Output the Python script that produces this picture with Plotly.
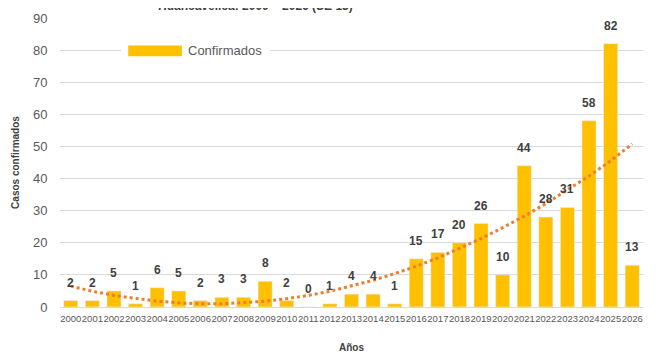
import plotly.graph_objects as go

# casos confirmados por año (SE 13 para 2026)
years = list(range(2000, 2027))
casos = [2, 2, 5, 1, 6, 5, 2, 3, 3, 8, 2, 0, 1, 4, 4, 1,
         15, 17, 20, 26, 10, 44, 28, 31, 58, 82, 13]
# linea de tendencia (polinomica)
tendencia = [6.5, 4.9, 3.6, 2.6, 1.8, 1.3, 1.0, 1.0, 1.3, 1.8, 2.6, 3.6, 4.9,
             6.5, 8.3, 10.4, 12.7, 15.3, 18.2, 21.3, 24.7, 28.3, 32.2, 36.4,
             40.8, 45.5, 50.8]
tick_labels = [str(y) for y in years]

FONT = "Liberation Sans, Arial, sans-serif"
GRAY = "#595959"

fig = go.Figure()

fig.add_trace(go.Bar(
    x=years, y=casos, name="Confirmados",
    marker_color="#FFC000", width=0.65,
    showlegend=False,
))

fig.add_trace(go.Scatter(
    x=years, y=tendencia, mode="lines",
    line=dict(color="#ED7D31", width=3, dash="dot"),
    showlegend=False, hoverinfo="skip",
))

# etiquetas de datos
for x, v in zip(years, casos):
    fig.add_annotation(
        x=x, y=v, text=f"<b>{v}</b>", showarrow=False,
        yshift=18, font=dict(family=FONT, size=12, color="#404040"),
    )

# leyenda estilo excel
fig.add_shape(type="rect", xref="paper", yref="paper",
              x0=0.105, x1=0.36, y0=0.85, y1=0.92,
              fillcolor="white", line_width=0, layer="above")
fig.add_shape(type="rect", xref="paper", yref="paper",
              x0=0.117, x1=0.209, y0=0.868, y1=0.905,
              fillcolor="#FFC000", line_width=0, layer="above")
fig.add_annotation(xref="paper", yref="paper", x=0.216, y=0.887,
                   xanchor="left", yanchor="middle", showarrow=False,
                   text="Confirmados",
                   font=dict(family=FONT, size=13, color=GRAY))

# titulo (queda recortado arriba como en el original)
fig.add_annotation(xref="paper", yref="paper", x=0.336, y=1.042,
                   xanchor="center", yanchor="middle", showarrow=False,
                   text="<b>Huancavelica: 2000 – 2026 (SE 13)</b>",
                   font=dict(family=FONT, size=12, color="#404040"))

fig.update_xaxes(
    tickmode="array", tickvals=years, ticktext=tick_labels,
    tickangle=0, range=[1999.5, 2026.5], automargin=False,
    tickfont=dict(family=FONT, size=9.5, color=GRAY),
    ticks="outside", ticklen=3, tickcolor="rgba(0,0,0,0)",
    showgrid=False, zeroline=False,
    showline=True, linecolor="#d9d9d9",
    title=dict(text="<b>Años</b>", font=dict(family=FONT, size=10, color="#404040"),
               standoff=20),
)
fig.update_yaxes(
    range=[0, 90], dtick=10, automargin=False,
    tickfont=dict(family=FONT, size=13, color=GRAY),
    ticks="outside", ticklen=9, tickcolor="rgba(0,0,0,0)",
    gridcolor="#d9d9d9", gridwidth=1, zeroline=False,
    title=dict(text="<b>Casos confirmados</b>",
               font=dict(family=FONT, size=10, color="#404040"), standoff=11),
)

# la pagina agrega 8px de margen, se compensa aqui
fig.update_layout(
    width=661, height=356,
    margin=dict(l=52, r=26, t=10, b=57),
    plot_bgcolor="white", paper_bgcolor="white",
    bargap=0.35,
)

fig.write_html("out.html")
